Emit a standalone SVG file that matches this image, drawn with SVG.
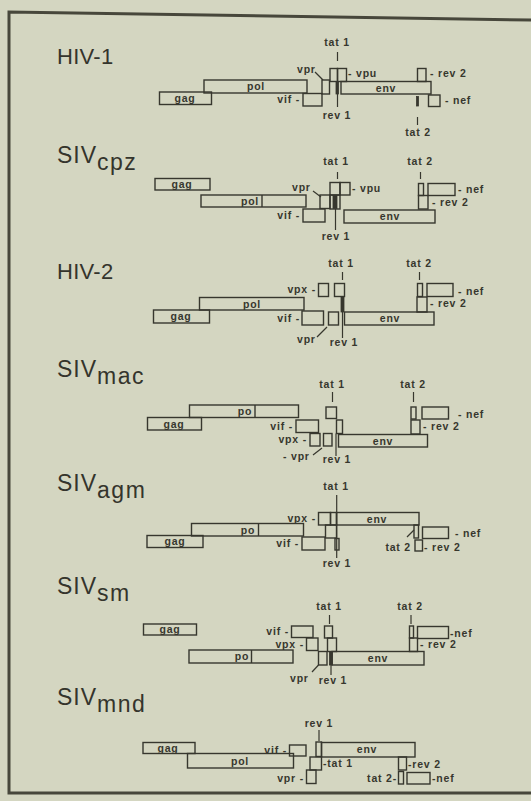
<svg xmlns="http://www.w3.org/2000/svg" width="531" height="801" viewBox="0 0 531 801">
<style>
.bg{fill:#d4d6c1}
.frame{fill:none;stroke:#47473b;stroke-width:3}
.b{fill:none;stroke:#37372e;stroke-width:1.4}
.f{fill:#37372e;stroke:#37372e;stroke-width:0.8}
.c{fill:none;stroke:#37372e;stroke-width:1.2}
.t{font-family:"Liberation Sans",Arial,sans-serif;font-weight:bold;font-size:10.5px;fill:#37372e;letter-spacing:0.8px}
.m{text-anchor:middle}
.e{text-anchor:end}
.ti{font-family:"Liberation Sans",Arial,sans-serif;font-size:22px;fill:#34342c;letter-spacing:0.3px}
.siv{font-size:23px;letter-spacing:1px}
.sub{font-size:23px;letter-spacing:1.5px}
</style>
<rect class="bg" x="0" y="0" width="531" height="801"/>
<path class="frame" d="M531,20 L9,12 L9,793 L531,793"/>

<g id="titles">
<text class="ti" x="57" y="64">HIV-1</text>
<text class="ti siv" x="57" y="163">SIV<tspan class="sub" dy="7">cpz</tspan></text>
<text class="ti" x="57" y="279">HIV-2</text>
<text class="ti siv" x="57" y="377">SIV<tspan class="sub" dy="7">mac</tspan></text>
<text class="ti siv" x="57" y="491">SIV<tspan class="sub" dy="7">agm</tspan></text>
<text class="ti siv" x="57" y="594">SIV<tspan class="sub" dy="7">sm</tspan></text>
<text class="ti siv" x="57" y="705">SIV<tspan class="sub" dy="7">mnd</tspan></text>
</g>

<g id="hiv1">
<g id="hiv1-gag"><rect class="b" x="159.5" y="92" width="52" height="12.5"/><text class="t m" x="185" y="102">gag</text></g>
<g id="hiv1-pol"><rect class="b" x="204" y="80" width="103" height="13"/><text class="t m" x="256" y="90">pol</text></g>
<g id="hiv1-vif"><rect class="b" x="303" y="93.5" width="19" height="12.5"/><text class="t e" x="300" y="103">vif -</text></g>
<g id="hiv1-vpr"><rect class="b" x="322" y="80" width="7.5" height="14"/><text class="t" x="297" y="73">vpr</text></g>
<g id="hiv1-tat1"><rect class="b" x="330" y="68.5" width="7.5" height="13"/><text class="t m" x="337" y="46">tat 1</text></g>
<g id="hiv1-vpu"><rect class="b" x="337.5" y="68.5" width="9" height="13"/><text class="t" x="348" y="77">- vpu</text></g>
<g id="hiv1-rev1"><rect class="f" x="336" y="81.5" width="2.5" height="12.5"/><text class="t m" x="337" y="119">rev 1</text></g>
<g id="hiv1-env"><rect class="b" x="341" y="81.5" width="90" height="12.5"/><text class="t m" x="386" y="91.5">env</text></g>
<g id="hiv1-rev2"><rect class="b" x="417.5" y="68.5" width="8.5" height="13"/><text class="t" x="430" y="77">- rev 2</text></g>
<g id="hiv1-tat2"><rect class="f" x="416.5" y="96.5" width="2" height="9.5"/><text class="t m" x="418" y="136">tat 2</text></g>
<g id="hiv1-nef"><rect class="b" x="428.5" y="95" width="11.5" height="11.5"/><text class="t" x="445" y="104">- nef</text></g>
</g>

<g id="sivcpz">
<g id="cpz-gag"><rect class="b" x="155" y="178.5" width="55" height="11.5"/><text class="t m" x="182" y="188">gag</text></g>
<g id="cpz-pol"><rect class="b" x="201" y="195" width="105" height="12"/><line class="b" x1="262" y1="195" x2="262" y2="207"/><text class="t m" x="250" y="204.5">pol</text></g>
<g id="cpz-vif"><rect class="b" x="303" y="209" width="22" height="13"/><text class="t e" x="300" y="219">vif -</text></g>
<g id="cpz-vpr"><rect class="b" x="320" y="195" width="10" height="13.5"/><text class="t" x="292" y="191">vpr</text></g>
<g id="cpz-tat1"><rect class="b" x="330" y="182.5" width="10" height="12.5"/><rect class="b" x="330" y="195" width="10" height="14"/><text class="t m" x="336" y="165">tat 1</text></g>
<g id="cpz-vpu"><rect class="b" x="340" y="182.5" width="10" height="12.5"/><text class="t" x="352" y="192">- vpu</text></g>
<g id="cpz-rev1"><rect class="f" x="333" y="195.5" width="4" height="13"/><text class="t m" x="336" y="240">rev 1</text></g>
<g id="cpz-env"><rect class="b" x="344" y="210" width="91" height="13"/><text class="t m" x="390" y="220">env</text></g>
<g id="cpz-tat2"><rect class="b" x="418.5" y="183.5" width="5" height="12"/><text class="t m" x="420" y="165">tat 2</text></g>
<g id="cpz-nef"><rect class="b" x="428" y="183.5" width="27" height="12"/><text class="t" x="458" y="193">- nef</text></g>
<g id="cpz-rev2"><rect class="b" x="418.5" y="195.5" width="9.5" height="13.5"/><text class="t" x="432" y="206">- rev 2</text></g>
</g>

<g id="hiv2">
<g id="hiv2-gag"><rect class="b" x="153.5" y="310" width="56" height="13"/><text class="t m" x="181" y="320">gag</text></g>
<g id="hiv2-pol"><rect class="b" x="199.5" y="297.5" width="104.5" height="12.5"/><text class="t m" x="252" y="307.5">pol</text></g>
<g id="hiv2-vif"><rect class="b" x="302" y="311" width="21.5" height="14"/><text class="t e" x="300" y="322">vif -</text></g>
<g id="hiv2-vpx"><rect class="b" x="318.5" y="283.5" width="10" height="13"/><text class="t e" x="316" y="293">vpx -</text></g>
<g id="hiv2-tat1"><rect class="b" x="334.5" y="283.5" width="10" height="13"/><text class="t m" x="341" y="267">tat 1</text></g>
<g id="hiv2-vpr"><rect class="b" x="328.5" y="312" width="10" height="13"/><text class="t" x="297" y="343">vpr</text></g>
<g id="hiv2-rev1"><rect class="f" x="341" y="297" width="3" height="15"/><text class="t m" x="344" y="346">rev 1</text></g>
<g id="hiv2-env"><rect class="b" x="344.5" y="312" width="89.5" height="13"/><text class="t m" x="390" y="322">env</text></g>
<g id="hiv2-tat2"><rect class="b" x="417.5" y="283.5" width="5" height="13"/><text class="t m" x="419" y="267">tat 2</text></g>
<g id="hiv2-nef"><rect class="b" x="427" y="283.5" width="26" height="13"/><text class="t" x="458" y="295">- nef</text></g>
<g id="hiv2-rev2"><rect class="b" x="417" y="297" width="10" height="15"/><text class="t" x="430" y="307">- rev 2</text></g>
</g>

<g id="sivmac">
<g id="mac-pol"><rect class="b" x="189.5" y="405" width="109" height="12.5"/><line class="b" x1="255" y1="405" x2="255" y2="417.5"/><text class="t m" x="245" y="415">po</text></g>
<g id="mac-gag"><rect class="b" x="147.5" y="417.5" width="54" height="12.5"/><text class="t m" x="174" y="427.5">gag</text></g>
<g id="mac-vif"><rect class="b" x="296" y="420" width="22.5" height="12.5"/><text class="t e" x="293" y="430">vif -</text></g>
<g id="mac-vpx"><rect class="b" x="310" y="433.5" width="10" height="12.5"/><text class="t e" x="307" y="443">vpx -</text></g>
<g id="mac-vpr"><rect class="b" x="323.5" y="433.5" width="8.5" height="12.5"/><text class="t" x="283" y="460">- vpr</text></g>
<g id="mac-tat1"><rect class="b" x="326" y="407" width="10.5" height="11.5"/><text class="t m" x="332" y="388">tat 1</text></g>
<g id="mac-rev1"><rect class="b" x="336.5" y="420" width="6" height="13.5"/><text class="t m" x="337" y="463">rev 1</text></g>
<g id="mac-env"><rect class="b" x="338.5" y="434.5" width="89" height="12.5"/><text class="t m" x="383" y="444.5">env</text></g>
<g id="mac-tat2"><rect class="b" x="411" y="407" width="5" height="12"/><text class="t m" x="413" y="388">tat 2</text></g>
<g id="mac-nef"><rect class="b" x="422" y="407" width="26.5" height="12"/><text class="t" x="458" y="418">- nef</text></g>
<g id="mac-rev2"><rect class="b" x="411" y="420" width="9" height="14"/><text class="t" x="423" y="430">- rev 2</text></g>
</g>

<g id="sivagm">
<g id="agm-pol"><rect class="b" x="191.5" y="523.5" width="112" height="12.5"/><line class="b" x1="258.5" y1="523.5" x2="258.5" y2="536"/><text class="t m" x="248" y="533.5">po</text></g>
<g id="agm-gag"><rect class="b" x="147" y="535.5" width="56" height="12"/><text class="t m" x="175" y="545">gag</text></g>
<g id="agm-vif"><rect class="b" x="302" y="537" width="23" height="13"/><text class="t e" x="299" y="547">vif -</text></g>
<g id="agm-vpx"><rect class="b" x="318.5" y="512.5" width="12" height="12.5"/><text class="t e" x="316" y="522">vpx -</text></g>
<g id="agm-tat1"><rect class="b" x="330.5" y="512.5" width="6" height="12.5"/><text class="t m" x="336" y="490">tat 1</text></g>
<g id="agm-vpr"><rect class="b" x="325.5" y="525" width="11" height="13"/></g>
<g id="agm-rev1"><rect class="b" x="335" y="538.5" width="4" height="11.5"/><text class="t m" x="337" y="567">rev 1</text></g>
<g id="agm-env"><rect class="b" x="336.5" y="512.5" width="82.5" height="12.5"/><text class="t m" x="377" y="522.5">env</text></g>
<g id="agm-tat2"><rect class="b" x="414" y="525" width="4.5" height="13"/><text class="t e" x="411" y="551">tat 2</text></g>
<g id="agm-rev2"><rect class="b" x="415" y="540" width="7.5" height="11"/><text class="t" x="424" y="551">- rev 2</text></g>
<g id="agm-nef"><rect class="b" x="422.5" y="527" width="26" height="11.5"/><text class="t" x="455" y="537">- nef</text></g>
</g>

<g id="sivsm">
<g id="sm-gag"><rect class="b" x="143.5" y="624" width="53" height="11"/><text class="t m" x="170" y="633">gag</text></g>
<g id="sm-vif"><rect class="b" x="291.5" y="626" width="21.5" height="11.5"/><text class="t e" x="289" y="635">vif -</text></g>
<g id="sm-vpx"><rect class="b" x="306.5" y="638" width="11.5" height="12.5"/><text class="t e" x="304" y="648">vpx -</text></g>
<g id="sm-tat1"><rect class="b" x="324.5" y="626" width="8" height="12"/><rect class="b" x="327.5" y="638" width="9" height="13.5"/><text class="t m" x="329" y="610">tat 1</text></g>
<g id="sm-pol"><rect class="b" x="189" y="650" width="104" height="13"/><line class="b" x1="251.5" y1="650" x2="251.5" y2="663"/><text class="t m" x="242" y="660">po</text></g>
<g id="sm-env"><rect class="b" x="332" y="651.5" width="92" height="13.5"/><text class="t m" x="378" y="662">env</text></g>
<g id="sm-vpr"><rect class="b" x="318.5" y="651.5" width="8.5" height="13.5"/><text class="t" x="290" y="682">vpr</text></g>
<g id="sm-rev1"><rect class="f" x="329.5" y="651.5" width="3" height="13.5"/><text class="t m" x="333" y="684">rev 1</text></g>
<g id="sm-tat2"><rect class="b" x="409.5" y="626" width="4" height="12"/><text class="t m" x="410" y="610">tat 2</text></g>
<g id="sm-nef"><rect class="b" x="417.5" y="626.5" width="31" height="12"/><text class="t" x="450" y="637">-nef</text></g>
<g id="sm-rev2"><rect class="b" x="409.5" y="638" width="8" height="13.5"/><text class="t" x="420" y="648">- rev 2</text></g>
</g>

<g id="sivmnd">
<g id="mnd-gag"><rect class="b" x="143" y="742.5" width="52" height="11"/><text class="t m" x="168" y="751.5">gag</text></g>
<g id="mnd-pol"><rect class="b" x="187.5" y="753.5" width="106" height="14.5"/><text class="t m" x="240" y="764.5">pol</text></g>
<g id="mnd-vif"><rect class="b" x="289.5" y="745" width="16.5" height="11"/><text class="t e" x="287" y="754">vif -</text></g>
<g id="mnd-rev1"><rect class="b" x="316" y="742" width="5.5" height="14.5"/><text class="t m" x="319" y="727">rev 1</text></g>
<g id="mnd-env"><rect class="b" x="321.5" y="742.5" width="93.5" height="14.5"/><text class="t m" x="367" y="753">env</text></g>
<g id="mnd-tat1"><rect class="b" x="310" y="757" width="11.5" height="13"/><text class="t" x="323" y="767">-tat 1</text></g>
<g id="mnd-vpr"><rect class="b" x="306.5" y="770" width="9.5" height="13.5"/><text class="t e" x="304" y="782">vpr -</text></g>
<g id="mnd-rev2"><rect class="b" x="398.5" y="757" width="8" height="13"/><text class="t" x="408" y="768">-rev 2</text></g>
<g id="mnd-tat2"><rect class="b" x="398.5" y="771.5" width="5" height="12.5"/><text class="t e" x="397" y="782">tat 2-</text></g>
<g id="mnd-nef"><rect class="b" x="407" y="772.5" width="23" height="11.5"/><text class="t" x="432" y="782">-nef</text></g>
</g>

<g id="connectors">
<line class="c" x1="337.5" y1="52" x2="337.5" y2="61"/>
<line class="c" x1="315" y1="72" x2="323" y2="80"/>
<line class="c" x1="337.5" y1="94" x2="337.5" y2="107"/>
<line class="c" x1="417.5" y1="117" x2="417.5" y2="125"/>
<line class="c" x1="337.5" y1="172" x2="337.5" y2="179"/>
<line class="c" x1="313" y1="191" x2="321" y2="197"/>
<line class="c" x1="335.5" y1="209" x2="335.5" y2="230"/>
<line class="c" x1="420.5" y1="172" x2="420.5" y2="179"/>
<line class="c" x1="342.5" y1="272" x2="342.5" y2="280"/>
<line class="c" x1="317" y1="337" x2="327" y2="327"/>
<line class="c" x1="342.5" y1="312" x2="342.5" y2="338"/>
<line class="c" x1="419.5" y1="272" x2="419.5" y2="280"/>
<line class="c" x1="332.5" y1="392" x2="332.5" y2="402"/>
<line class="c" x1="313" y1="455" x2="322" y2="448"/>
<line class="c" x1="336" y1="433.5" x2="336" y2="456"/>
<line class="c" x1="413.5" y1="392" x2="413.5" y2="402"/>
<line class="c" x1="336.7" y1="495" x2="336.7" y2="558"/>
<line class="c" x1="407" y1="537" x2="414" y2="530"/>
<line class="c" x1="329.5" y1="615" x2="329.5" y2="624"/>
<line class="c" x1="312" y1="672" x2="318.5" y2="665"/>
<line class="c" x1="331" y1="665" x2="331" y2="675"/>
<line class="c" x1="411" y1="615" x2="411" y2="624"/>
<line class="c" x1="319" y1="730" x2="319" y2="741"/>
</g>
</svg>
